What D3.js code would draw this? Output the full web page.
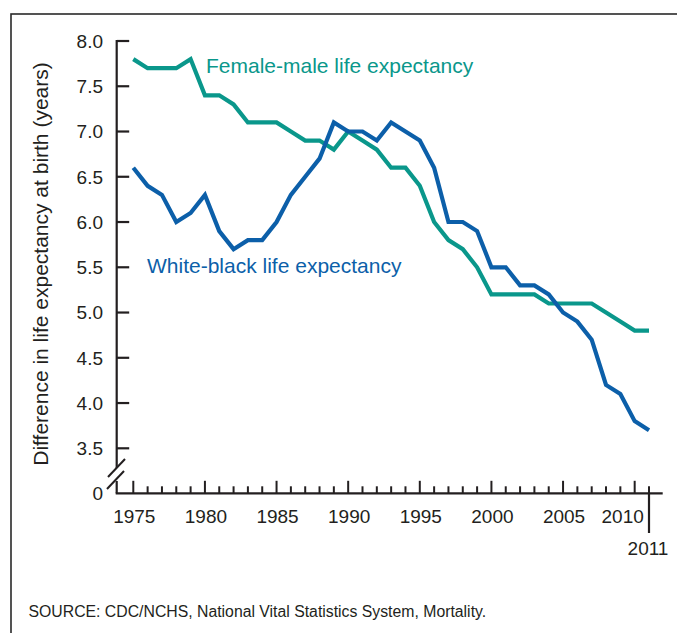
<!DOCTYPE html>
<html>
<head>
<meta charset="utf-8">
<script src="https://d3js.org/d3.v7.min.js"></script>
<style>
  body { margin: 0; background: #fff; }
  text { font-family: "Liberation Sans", Arial, sans-serif; fill: #231f20; }
</style>
</head>
<body>
<script>
// years 1975 - 2011
var years = d3.range(1975, 2012);

var femaleMale = [7.8, 7.7, 7.7, 7.7, 7.8, 7.4, 7.4, 7.3, 7.1, 7.1,
                  7.1, 7.0, 6.9, 6.9, 6.8, 7.0, 6.9, 6.8, 6.6, 6.6,
                  6.4, 6.0, 5.8, 5.7, 5.5, 5.2, 5.2, 5.2, 5.2, 5.1,
                  5.1, 5.1, 5.1, 5.0, 4.9, 4.8, 4.8];

var whiteBlack = [6.6, 6.4, 6.3, 6.0, 6.1, 6.3, 5.9, 5.7, 5.8, 5.8,
                  6.0, 6.3, 6.5, 6.7, 7.1, 7.0, 7.0, 6.9, 7.1, 7.0,
                  6.9, 6.6, 6.0, 6.0, 5.9, 5.5, 5.5, 5.3, 5.3, 5.2,
                  5.0, 4.9, 4.7, 4.2, 4.1, 3.8, 3.7];

var yTicks = [3.5, 4.0, 4.5, 5.0, 5.5, 6.0, 6.5, 7.0, 7.5, 8.0];
var xLabels = [1975, 1980, 1985, 1990, 1995, 2000, 2005, 2010];

var teal = "#0a978b";
var blue = "#0c5fa9";
var ink = "#231f20";

var svgWidth = 677;
var svgHeight = 633;

var axisX = 116.7;
var baseY = 493.3;

var xScale = d3.scaleLinear()
               .domain([1975, 2011])
               .range([133.3, 649]);

var yScale = d3.scaleLinear()
               .domain([3.5, 8.0])
               .range([448.3, 41]);

var svg = d3.select("body")
            .append("svg")
            .attr("width", svgWidth)
            .attr("height", svgHeight);

// frame
svg.append("rect")
   .attr("x", 11)
   .attr("y", 14)
   .attr("width", 800)
   .attr("height", 800)
   .attr("fill", "none")
   .attr("stroke", "#2a2a2a")
   .attr("stroke-width", 1.6);

// y axis (with a break between 3.5 and 0)
var yAxis = svg.append("g").attr("class", "y axis");

yAxis.append("line")
     .attr("x1", axisX).attr("x2", axisX)
     .attr("y1", yScale(8.0) - 1).attr("y2", 468)
     .attr("stroke", ink).attr("stroke-width", 2.2);

yAxis.append("line")
     .attr("x1", axisX).attr("x2", axisX)
     .attr("y1", 481).attr("y2", baseY)
     .attr("stroke", ink).attr("stroke-width", 2.2);

// break marks
[[108, 477, 125, 459], [107, 489, 124, 471]].forEach(function(s) {
  yAxis.append("line")
       .attr("x1", s[0]).attr("y1", s[1])
       .attr("x2", s[2]).attr("y2", s[3])
       .attr("stroke", ink).attr("stroke-width", 2);
});

yAxis.selectAll(".ytick")
     .data(yTicks)
     .enter()
     .append("line")
     .attr("class", "ytick")
     .attr("x1", axisX)
     .attr("x2", axisX + 12.5)
     .attr("y1", function(d) { return yScale(d); })
     .attr("y2", function(d) { return yScale(d); })
     .attr("stroke", ink)
     .attr("stroke-width", 2.2);

yAxis.selectAll(".ylabel")
     .data(yTicks)
     .enter()
     .append("text")
     .attr("class", "ylabel")
     .attr("x", 103)
     .attr("y", function(d) { return yScale(d); })
     .attr("dy", "0.36em")
     .attr("text-anchor", "end")
     .style("font-size", "19px")
     .text(function(d) { return d.toFixed(1); });

yAxis.append("text")
     .attr("x", 103)
     .attr("y", baseY)
     .attr("dy", "0.36em")
     .attr("text-anchor", "end")
     .style("font-size", "19px")
     .text("0");

// x axis
var xAxis = svg.append("g").attr("class", "x axis");

xAxis.append("line")
     .attr("x1", axisX - 1).attr("x2", 662.7)
     .attr("y1", baseY).attr("y2", baseY)
     .attr("stroke", ink).attr("stroke-width", 2.2);

xAxis.selectAll(".xtick")
     .data(years)
     .enter()
     .append("line")
     .attr("class", "xtick")
     .attr("x1", function(d) { return xScale(d); })
     .attr("x2", function(d) { return xScale(d); })
     .attr("y1", baseY)
     .attr("y2", function(d) { return d % 5 == 0 ? baseY - 12.5 : baseY - 7; })
     .attr("stroke", ink)
     .attr("stroke-width", 2);

// long marker under 2011
xAxis.append("line")
     .attr("x1", xScale(2011)).attr("x2", xScale(2011))
     .attr("y1", baseY).attr("y2", 533)
     .attr("stroke", ink).attr("stroke-width", 2.2);

xAxis.selectAll(".xlabel")
     .data(xLabels)
     .enter()
     .append("text")
     .attr("class", "xlabel")
     .attr("x", function(d) { return d == 2010 ? xScale(d) - 12 : xScale(d) + 1; })
     .attr("y", 516)
     .attr("dy", "0.36em")
     .attr("text-anchor", "middle")
     .style("font-size", "19px")
     .text(function(d) { return d; });

xAxis.append("text")
     .attr("x", xScale(2011) - 1)
     .attr("y", 548)
     .attr("dy", "0.36em")
     .attr("text-anchor", "middle")
     .style("font-size", "19px")
     .text("2011");

// y axis title
svg.append("text")
   .attr("transform", "translate(40,264) rotate(-90)")
   .attr("text-anchor", "middle")
   .attr("dy", "0.36em")
   .style("font-size", "21px")
   .text("Difference in life expectancy at birth (years)");

// lines
var line = d3.line()
             .x(function(d) { return xScale(d[0]); })
             .y(function(d) { return yScale(d[1]); });

function drawLine(values, colour) {
  svg.append("path")
     .datum(years.map(function(y, i) { return [y, values[i]]; }))
     .attr("d", line)
     .attr("fill", "none")
     .attr("stroke", colour)
     .attr("stroke-width", 4.2)
     .attr("stroke-linejoin", "miter");
}

drawLine(femaleMale, teal);
drawLine(whiteBlack, blue);

// labels on the lines
svg.append("text")
   .attr("x", 206)
   .attr("y", 73)
   .style("font-size", "21px")
   .style("fill", teal)
   .text("Female-male life expectancy");

svg.append("text")
   .attr("x", 147)
   .attr("y", 273)
   .style("font-size", "21px")
   .style("fill", blue)
   .text("White-black life expectancy");

// source note
svg.append("text")
   .attr("x", 28.5)
   .attr("y", 617.3)
   .style("font-size", "15.8px")
   .text("SOURCE: CDC/NCHS, National Vital Statistics System, Mortality.");
</script>
</body>
</html>
